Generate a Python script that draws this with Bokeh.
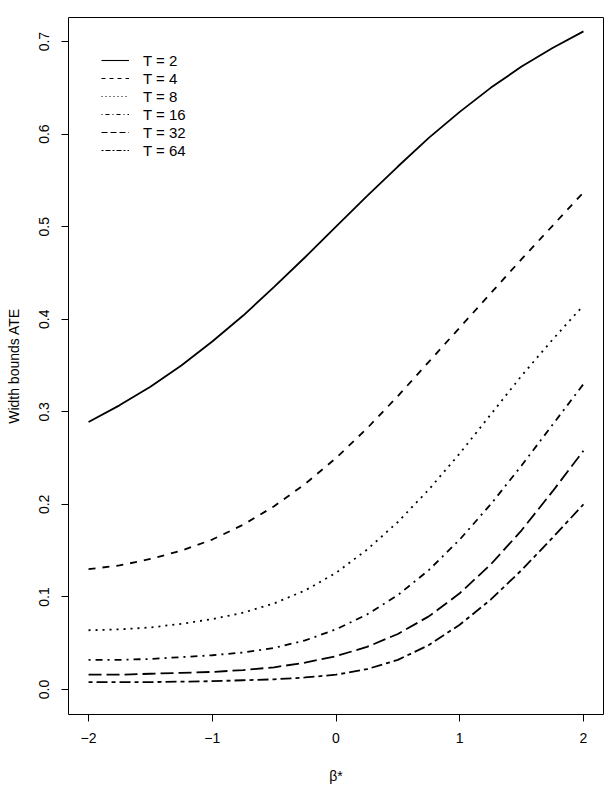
from bokeh.plotting import figure
from bokeh.models import Range1d, FixedTicker, Legend, LegendItem
from bokeh.embed import file_html
from bokeh.resources import INLINE

# beta* grid
beta = [-2.0, -1.75, -1.5, -1.25, -1.0, -0.75, -0.5, -0.25, 0.0,
        0.25, 0.5, 0.75, 1.0, 1.25, 1.5, 1.75, 2.0]

# width of the ATE bounds for each number of periods T
w_T2 = [0.289, 0.307, 0.327, 0.350, 0.376, 0.404, 0.435, 0.467, 0.500,
        0.533, 0.565, 0.596, 0.624, 0.650, 0.673, 0.693, 0.711]
w_T4 = [0.130, 0.134, 0.141, 0.150, 0.162, 0.178, 0.198, 0.222, 0.250,
        0.282, 0.317, 0.354, 0.391, 0.428, 0.465, 0.501, 0.537]
w_T8 = [0.064, 0.065, 0.067, 0.071, 0.076, 0.083, 0.093, 0.107, 0.126,
        0.151, 0.181, 0.216, 0.255, 0.297, 0.339, 0.378, 0.415]
w_T16 = [0.032, 0.032, 0.033, 0.035, 0.037, 0.040, 0.045, 0.053, 0.065,
         0.081, 0.102, 0.129, 0.162, 0.200, 0.242, 0.286, 0.330]
w_T32 = [0.016, 0.016, 0.017, 0.018, 0.019, 0.021, 0.024, 0.029, 0.036,
         0.046, 0.060, 0.079, 0.104, 0.135, 0.172, 0.214, 0.258]
w_T64 = [0.008, 0.008, 0.008, 0.0085, 0.009, 0.010, 0.011, 0.013, 0.016,
         0.022, 0.032, 0.048, 0.070, 0.097, 0.129, 0.164, 0.200]

series_labels = ["T = 2", "T = 4", "T = 8", "T = 16", "T = 32", "T = 64"]
series_values = [w_T2, w_T4, w_T8, w_T16, w_T32, w_T64]
# the curves are drawn heavier than the legend keys, so their dashes are longer
curve_dashes = ["solid", "7 7", "2 5", "2 5 7 5", "13 5", "4 4 11 4"]
key_dashes = ["solid", "4 4", "1 3", "1 3 4 3", "6 3", "2 2 5 2"]

x_ticks = [-2, -1, 0, 1, 2]
x_tick_labels = ["\u22122", "\u22121", "0", "1", "2"]
y_ticks = [0.0, 0.1, 0.2, 0.3, 0.4, 0.5, 0.6, 0.7]
y_tick_labels = ["0.0", "0.1", "0.2", "0.3", "0.4", "0.5", "0.6", "0.7"]

FONT = "Liberation Sans"
FS = "14px"

p = figure(width=608, height=795, output_backend="svg", toolbar_location=None,
           x_range=Range1d(-2.162, 2.162), y_range=Range1d(-0.027, 0.726),
           min_border_left=68, min_border_right=5, min_border_top=17,
           min_border_bottom=81)
p.grid.visible = False
p.outline_line_color = "black"
p.outline_line_width = 1
p.background_fill_color = "white"
p.border_fill_color = "white"

items = []
for lab, vals, cdash, kdash in zip(series_labels, series_values,
                                   curve_dashes, key_dashes):
    p.line(beta, vals, line_color="black", line_width=1.8, line_dash=cdash)
    # off-frame renderer that only supplies the thinner legend key
    key = p.line(x=[10, 11], y=[10, 10], line_color="black", line_width=1.1,
                 line_dash=kdash)
    items.append(LegendItem(label=lab, renderers=[key]))

# legend without a box in the upper left of the frame
legend = Legend(items=items, location=(33, 555))
legend.border_line_alpha = 0
legend.background_fill_alpha = 0
legend.padding = 0
legend.margin = 0
legend.spacing = 0
legend.glyph_width = 28
legend.glyph_height = 18
legend.label_height = 18
legend.label_standoff = 14
legend.label_text_font = FONT
legend.label_text_font_size = "15px"
legend.label_text_color = "black"
p.add_layout(legend)

xa = p.xaxis[0]
xa.ticker = FixedTicker(ticks=x_ticks)
xa.major_label_overrides = dict(zip(x_ticks, x_tick_labels))
xa.axis_label = "\u03b2*"
ya = p.yaxis[0]
ya.ticker = FixedTicker(ticks=y_ticks)
ya.major_label_overrides = dict(zip(y_ticks, y_tick_labels))
ya.axis_label = "Width bounds ATE"
ya.major_label_orientation = "vertical"

for ax in (xa, ya):
    ax.axis_line_color = None
    ax.major_tick_out = 7
    ax.major_tick_in = 0
    ax.major_tick_line_color = "black"
    ax.minor_tick_line_color = None
    ax.major_label_text_font = FONT
    ax.major_label_text_font_size = FS
    ax.major_label_text_color = "black"
    ax.axis_label_text_font = FONT
    ax.axis_label_text_font_size = FS
    ax.axis_label_text_font_style = "normal"
    ax.axis_label_text_color = "black"

xa.major_label_standoff = 11
xa.axis_label_standoff = 22
ya.major_label_standoff = 12
ya.axis_label_standoff = 15

open("out.html", "w").write(file_html(p, INLINE))
